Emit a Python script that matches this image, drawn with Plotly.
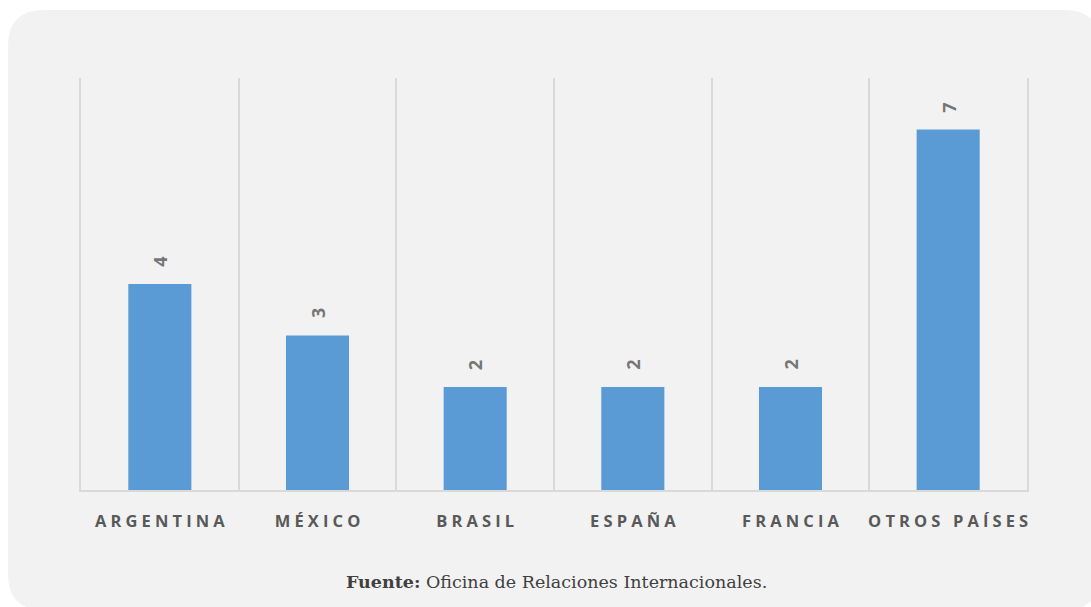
import plotly.graph_objects as go

# Students by country of origin
paises = ["ARGENTINA", "MÉXICO", "BRASIL", "ESPAÑA", "FRANCIA", "OTROS PAÍSES"]
valores = [4, 3, 2, 2, 2, 7]

W, H = 1091, 607
M_L, M_R, M_T, M_B = 81, 64, 78, 117
PW, PH = W - M_L - M_R, H - M_T - M_B

BAR = "#5b9bd5"
GRID = "#d9d9d9"
PANEL = "#f2f2f2"

LS = "\u2005"  # four-per-em space used as letter spacing


def spaced(txt):
    words = txt.split(" ")
    return (LS + " " + LS).join(LS.join(list(w)) for w in words)


def px_to_paper(x, y):
    return (x - M_L) / PW, 1 - (y - M_T) / PH


def rounded_panel(x0, y0, x1, y1, r):
    def p(x, y):
        a, b = px_to_paper(x, y)
        return f"{a:.5f},{b:.5f}"

    d = f"M {p(x0 + r, y0)} L {p(x1 - r, y0)} Q {p(x1, y0)} {p(x1, y0 + r)} "
    d += f"L {p(x1, y1 - r)} Q {p(x1, y1)} {p(x1 - r, y1)} "
    d += f"L {p(x0 + r, y1)} Q {p(x0, y1)} {p(x0, y1 - r)} "
    d += f"L {p(x0, y0 + r)} Q {p(x0, y0)} {p(x0 + r, y0)} Z"
    return d


fig = go.Figure()
fig.add_trace(go.Bar(
    x=paises,
    y=valores,
    marker=dict(color=BAR, line=dict(width=0)),
    width=0.4,
    hoverinfo="skip",
))

# value labels above bars, rotated
for c, v in zip(paises, valores):
    fig.add_annotation(
        x=c, y=v, text=str(v), showarrow=False, textangle=-90,
        xanchor="center", yanchor="middle", yshift=22,
        font=dict(family="Open Sans", size=18, color="#767676", weight="bold"),
    )

# source note
fx, fy = px_to_paper(556, 582)
fig.add_annotation(
    x=fx, y=fy, xref="paper", yref="paper", showarrow=False,
    xanchor="center", yanchor="middle",
    text="<b>Fuente:</b> Oficina de Relaciones Internacionales.",
    font=dict(family="DejaVu Serif", size=17.5, color="#404040"),
)

fig.add_shape(
    type="path", xref="paper", yref="paper", layer="below",
    path=rounded_panel(8, 10, 1100, 610, 36),
    fillcolor=PANEL, line=dict(width=0),
)

fig.update_layout(
    width=W, height=H,
    margin=dict(l=M_L, r=M_R, t=M_T, b=M_B, autoexpand=False),
    paper_bgcolor="white",
    plot_bgcolor="rgba(0,0,0,0)",
    showlegend=False,
    bargap=0.6,
    xaxis=dict(
        type="category",
        tickmode="array",
        tickvals=paises,
        ticktext=[spaced(p) for p in paises],
        tickson="boundaries",
        tickangle=0,
        showgrid=True, gridcolor=GRID, gridwidth=2,
        showline=True, linecolor=GRID, linewidth=2,
        ticks="", ticklabelstandoff=15,
        tickfont=dict(family="Open Sans", size=16.5, color="#595959", weight="bold"),
        fixedrange=True,
    ),
    yaxis=dict(
        range=[0, 8], showticklabels=False, ticks="", showgrid=False,
        zeroline=False, showline=True, mirror=True, linecolor=GRID,
        linewidth=2, fixedrange=True,
    ),
)

fig.write_html("out.html")
